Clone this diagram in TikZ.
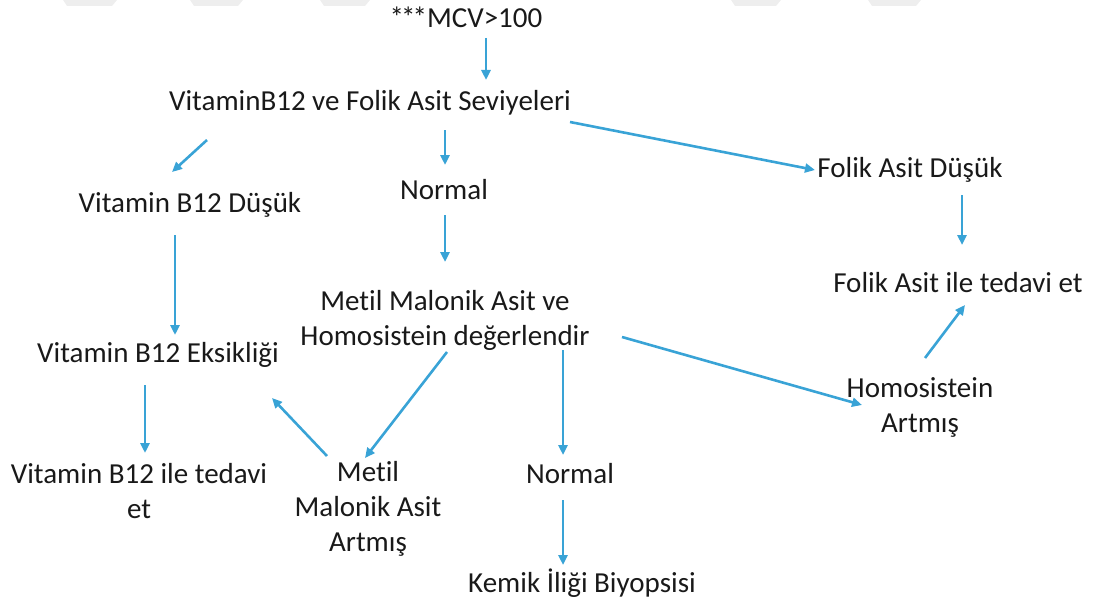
\documentclass[tikz,border=0pt]{standalone}
\usepackage{fontspec}
\setmainfont{Carlito}[Ligatures=NoCommon]
\usetikzlibrary{arrows.meta,calc}
\definecolor{arrowBlue}{RGB}{57,163,214}
\definecolor{markGray}{RGB}{238,238,238}
\begin{document}
\begin{tikzpicture}
[x=1pt,y=-1pt,
  arrowDecorate/.style={-{Triangle[length=10pt,width=9pt]},line width=2.6pt,draw=arrowBlue},%
  nodeDecorate/.style={inner sep=0pt,align=center,text=black!90,font=\fontsize{29}{35}\selectfont}]
\useasboundingbox (0,0) rectangle (1098,602);
%% faint marks along the top
\foreach \xa/\xb in {63/117, 190/243, 320/370, 731/781, 868/921}
{
  \fill[markGray] (\xa,0) -- (\xb,0) -- (\xb-5,6) -- (\xa+4,6) -- cycle;
}
%% nodes or vertices
\foreach \nodename/\x/\y/\nodetext in {mcv/466/17/{*\kern-3pt*\kern-3pt*MCV>100},
  levels/370/103/{VitaminB12 ve Folik Asit Seviyeleri},
  bdusuk/190/205/{Vitamin B12 Düşük}, normA/444/190/{Normal},
  fdusuk/910/170/{Folik Asit Düşük},
  mma/445/320/{Metil Malonik Asit ve\\Homosistein değerlendir},
  ftedavi/958/283/{Folik Asit ile tedavi et}, beks/158/355/{Vitamin B12 Eksikliği},
  hart/920/407/{Homosistein\\Artmış}, btedavi/139/491/{Vitamin B12 ile tedavi\\et},
  mmart/368/509/{Metil\\Malonik Asit\\Artmış}, normB/570/474/{Normal},
  kemik/582/583/{Kemik İliği Biyopsisi}}
{
  \node (\nodename) at (\x,\y) [nodeDecorate] {\nodetext};
}
%% edges or lines
\path
\foreach \startnode/\sx/\sy/\endnode/\ex/\ey in {
  mcv/20/21/levels/116/-23, levels/-163/37/bdusuk/-18/-33,
  levels/75/27/normA/1/-25, levels/200/19/fdusuk/-95/0,
  bdusuk/-15/30/beks/17/-20, normA/1/25/mma/0/-58,
  fdusuk/52/25/ftedavi/4/-38, hart/5/-49/ftedavi/7/22,
  mma/177/17/hart/-58/-2, beks/-13/30/btedavi/6/-38,
  mmart/-41/-53/beks/114/43, mma/2/32/mmart/-3/-51,
  mma/118/30/normB/-7/-19, normB/-7/26/kemik/-19/-18}
{
  ($(\startnode)+(\sx,\sy)$) edge[arrowDecorate] ($(\endnode)+(\ex,\ey)$)
};
\end{tikzpicture}
\end{document}
